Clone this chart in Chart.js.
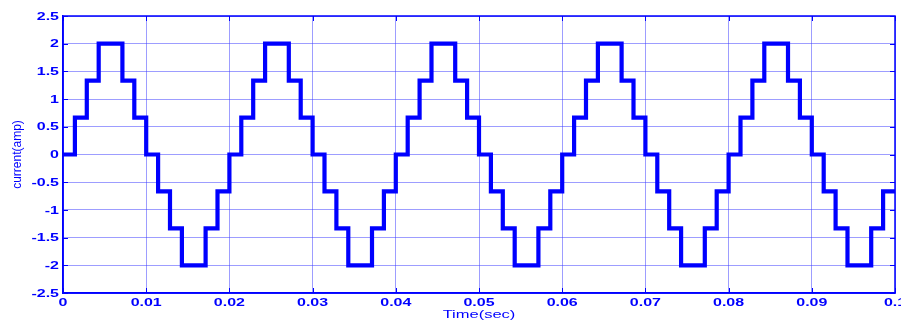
<!DOCTYPE html>
<html>
<head>
<meta charset="utf-8">
<script src="https://cdn.jsdelivr.net/npm/chart.js@4/dist/chart.umd.min.js"></script>
<style>
html,body{margin:0;padding:0;background:#fff;overflow:hidden;width:901px;height:322px;}
#wrap{position:absolute;left:0;top:0;width:915px;height:322px;}
</style>
</head>
<body>
<div id="wrap"><canvas id="c" width="915" height="322"></canvas></div>
<script>
// Breakpoint times (s) where the stepped current changes level
const times = [
  0, 0.00143, 0.00286, 0.00429, 0.00714, 0.00857, 0.01, 0.01143, 0.01286, 0.01429, 0.01714, 0.01857,
  0.02, 0.02143, 0.02286, 0.02429, 0.02714, 0.02857, 0.03, 0.03143, 0.03286, 0.03429, 0.03714, 0.03857,
  0.04, 0.04143, 0.04286, 0.04429, 0.04714, 0.04857, 0.05, 0.05143, 0.05286, 0.05429, 0.05714, 0.05857,
  0.06, 0.06143, 0.06286, 0.06429, 0.06714, 0.06857, 0.07, 0.07143, 0.07286, 0.07429, 0.07714, 0.07857,
  0.08, 0.08143, 0.08286, 0.08429, 0.08714, 0.08857, 0.09, 0.09143, 0.09286, 0.09429, 0.09714, 0.09857,
  0.1
];
// Current level (amp) held from each breakpoint
const current = [
  0, 0.667, 1.333, 2, 1.333, 0.667, 0, -0.667, -1.333, -2, -1.333, -0.667,
  0, 0.667, 1.333, 2, 1.333, 0.667, 0, -0.667, -1.333, -2, -1.333, -0.667,
  0, 0.667, 1.333, 2, 1.333, 0.667, 0, -0.667, -1.333, -2, -1.333, -0.667,
  0, 0.667, 1.333, 2, 1.333, 0.667, 0, -0.667, -1.333, -2, -1.333, -0.667,
  0, 0.667, 1.333, 2, 1.333, 0.667, 0, -0.667, -1.333, -2, -1.333, -0.667,
  -0.667
];
const xTickLabels = ['0','0.01','0.02','0.03','0.04','0.05','0.06','0.07','0.08','0.09','0.1'];
const yTickLabels = ['-2.5','-2','-1.5','-1','-0.5','0','0.5','1','1.5','2','2.5'];
const xTitle = 'Time(sec)';
const yTitle = 'current(amp)';

const BLUE = '#0000ff';
const GRID = 'rgba(60,60,255,0.5)';
const FAMILY = "'Liberation Sans', Arial, sans-serif";

function stretchedText(ctx, text, x, y, sx, align) {
  ctx.save();
  ctx.translate(x, y);
  ctx.scale(sx, 1);
  ctx.textAlign = align;
  ctx.textBaseline = 'alphabetic';
  ctx.fillText(text, 0, 0);
  ctx.restore();
}

const boxPlugin = {
  id: 'box',
  afterDraw(chart) {
    const {ctx, chartArea: a, scales} = chart;
    ctx.save();
    ctx.strokeStyle = BLUE;
    ctx.lineWidth = 1.5;
    ctx.strokeRect(a.left, a.top, a.right - a.left, a.bottom - a.top);
    ctx.lineWidth = 1;
    const L = 5;
    scales.x.ticks.forEach(t => {
      const px = Math.round(scales.x.getPixelForValue(t.value)) + 0.5;
      ctx.beginPath();
      ctx.moveTo(px, a.bottom); ctx.lineTo(px, a.bottom - L);
      ctx.moveTo(px, a.top); ctx.lineTo(px, a.top + L);
      ctx.stroke();
    });
    scales.y.ticks.forEach(t => {
      const py = Math.round(scales.y.getPixelForValue(t.value)) + 0.5;
      ctx.beginPath();
      ctx.moveTo(a.left, py); ctx.lineTo(a.left + L, py);
      ctx.moveTo(a.right, py); ctx.lineTo(a.right - L, py);
      ctx.stroke();
    });
    // tick labels (horizontally stretched like the source figure)
    ctx.fillStyle = BLUE;
    ctx.font = 'bold 10px ' + FAMILY;
    scales.y.ticks.forEach((t, i) => {
      const py = scales.y.getPixelForValue(t.value);
      stretchedText(ctx, yTickLabels[i], a.left - 4, py + 3.6, 1.6, 'right');
    });
    scales.x.ticks.forEach((t, i) => {
      const px = scales.x.getPixelForValue(t.value);
      stretchedText(ctx, xTickLabels[i], px, a.bottom + 12.8, 1.6, 'center');
    });
    ctx.font = '11px ' + FAMILY;
    stretchedText(ctx, xTitle, (a.left + a.right) / 2, a.bottom + 25, 1.5, 'center');
    ctx.restore();
  }
};

new Chart(document.getElementById('c'), {
  type: 'line',
  data: {
    datasets: [{
      data: times.map((t, i) => ({x: t, y: current[i]})),
      borderColor: BLUE,
      borderWidth: 4.2,
      pointRadius: 0,
      stepped: 'before',
      fill: false,
      tension: 0
    }]
  },
  options: {
    responsive: false,
    animation: false,
    devicePixelRatio: 1,
    layout: {padding: {top: 16, right: 20, left: 0, bottom: 0}},
    plugins: {legend: {display: false}, tooltip: {enabled: false}},
    scales: {
      x: {
        type: 'linear',
        min: 0, max: 0.1,
        afterFit(s) { s.height = 29; },
        ticks: {stepSize: 0.01, display: false, autoSkip: false},
        grid: {color: GRID, lineWidth: 1, drawTicks: false},
        border: {color: BLUE, width: 1.5}
      },
      y: {
        type: 'linear',
        min: -2.5, max: 2.5,
        afterFit(s) { s.width = 63; },
        ticks: {stepSize: 0.5, display: false, autoSkip: false},
        grid: {color: GRID, lineWidth: 1, drawTicks: false},
        border: {color: BLUE, width: 1.5},
        title: {
          display: true,
          text: yTitle,
          color: BLUE,
          font: {family: FAMILY, size: 12},
          padding: {top: 10, bottom: 0}
        }
      }
    }
  },
  plugins: [boxPlugin]
});
</script>
</body>
</html>
